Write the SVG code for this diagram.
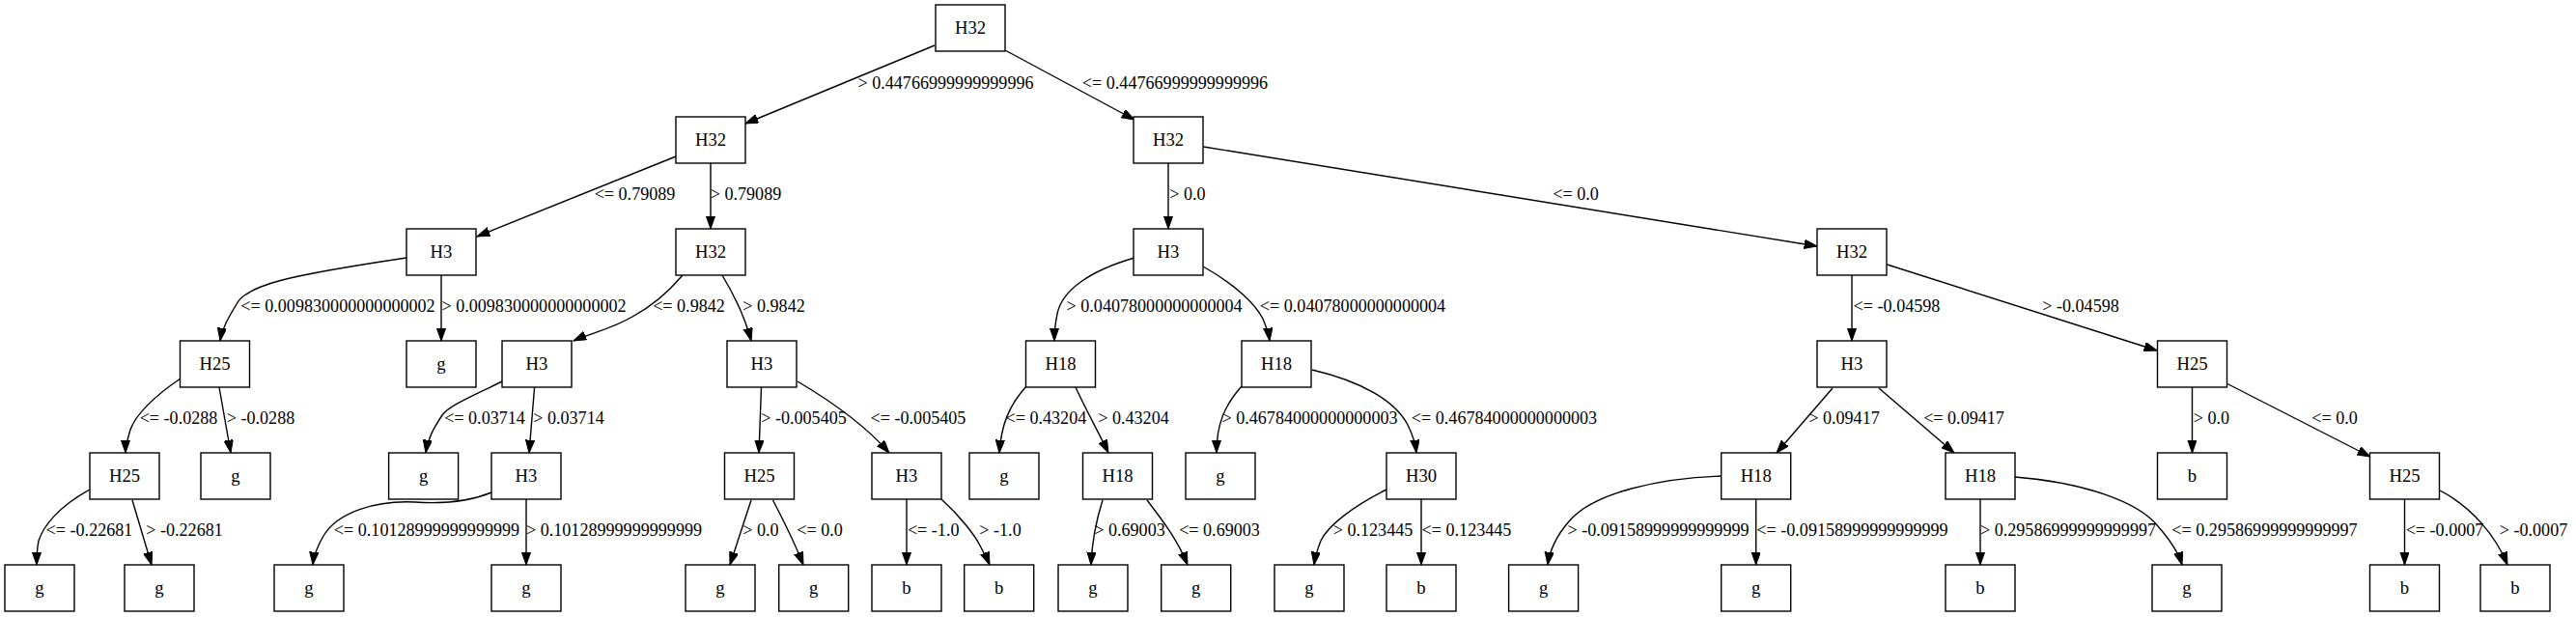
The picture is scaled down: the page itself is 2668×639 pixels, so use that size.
<svg xmlns="http://www.w3.org/2000/svg" width="2668" height="639" viewBox="0 0 2668 639">
<style>
.node rect{fill:#fff;stroke:#000;stroke-width:1.4}
.node text{font-family:"Liberation Serif","Times New Roman",serif;font-size:18.67px;text-anchor:middle;fill:#000}
.edges path{fill:none;stroke:#000;stroke-width:1.4;marker-end:url(#arr)}
.lbl text{font-family:"Liberation Serif","Times New Roman",serif;font-size:18.1px;text-anchor:middle;fill:#000}
</style>
<defs>
<marker id="arr" markerUnits="userSpaceOnUse" markerWidth="14" markerHeight="10" viewBox="0 0 14 10" refX="13.3" refY="4.67" orient="auto">
<path d="M0,0 L13.3,4.67 L0,9.33 Z" fill="#000" stroke="#000" stroke-width="1"/>
</marker>
</defs>
<rect width="2668" height="639" fill="#fff"/>
<g class="edges">
<path d="M968,47 L772,128"/>
<path d="M1041,52 L1175,124"/>
<path d="M700,162 L494,245"/>
<path d="M736,169 L736,237"/>
<path d="M1210,169 L1210,237"/>
<path d="M1246.5,152 L1882,255"/>
<path d="M421,267 C300,285 255,295 245,315 C236,330 230,340 228,353"/>
<path d="M457,285 L457,353"/>
<path d="M707,285 C690,305 670,320 655,328 C635,340 612,345 594,353"/>
<path d="M748,285 C760,305 772,330 778,353"/>
<path d="M1175,267 C1130,280 1100,300 1095,325 C1093,335 1092,345 1092,353"/>
<path d="M1246,276 C1280,295 1300,315 1308,330 C1312,340 1314,345 1315,353"/>
<path d="M1918,285 L1918,353"/>
<path d="M1954.6,274 L2234,363"/>
<path d="M187,392 C160,410 140,430 135,445 C132,455 130,462 130,469"/>
<path d="M227,401 L239,469"/>
<path d="M520,395 C490,410 465,420 458,430 C448,445 443,455 441,469"/>
<path d="M553.6,401 L548,469"/>
<path d="M788.5,401 L786,469"/>
<path d="M826,395 C865,418 900,445 921,469"/>
<path d="M1063,400 C1045,420 1037,440 1035,469"/>
<path d="M1114,401 C1125,425 1138,448 1148,469"/>
<path d="M1286,400 C1268,420 1260,440 1260,469"/>
<path d="M1359,383 C1410,395 1445,415 1458,440 C1463,450 1466,460 1467,469"/>
<path d="M1898,402 L1840,469"/>
<path d="M1946,402 L2024,469"/>
<path d="M2270.5,401 L2270.5,469"/>
<path d="M2306,397 L2455,473"/>
<path d="M93,507 C60,525 45,545 40,560 C38,570 38,578 38,585"/>
<path d="M137,518 L157,585"/>
<path d="M509,510 C485,520 460,522 430,520 C390,518 350,530 335,555 C328,567 325,575 324,585"/>
<path d="M545,517 L545,585"/>
<path d="M778,518 L756,585"/>
<path d="M800.5,518 C812,540 823,562 832,585"/>
<path d="M939,517 L939,585"/>
<path d="M975,517 C995,535 1010,555 1015,565 C1020,575 1023,580 1025,585"/>
<path d="M1142,518 C1135,540 1131,560 1130,585"/>
<path d="M1188,518 C1205,540 1220,560 1230,585"/>
<path d="M1436,507 C1400,525 1375,545 1368,560 C1364,570 1362,578 1361,585"/>
<path d="M1472,517 L1472,585"/>
<path d="M1783,493 C1720,495 1650,510 1625,540 C1612,555 1605,570 1603,585"/>
<path d="M1818.7,517 L1818.7,585"/>
<path d="M2051,517 L2051,585"/>
<path d="M2087,494 C2160,500 2215,520 2235,545 C2250,562 2257,575 2260,585"/>
<path d="M2490.5,517 L2490.5,585"/>
<path d="M2527,508 C2560,525 2585,555 2597,585"/>
</g>
<g class="lbl">
<text x="979.5" y="92">&gt; 0.44766999999999996</text>
<text x="1217" y="92">&lt;= 0.44766999999999996</text>
<text x="657.5" y="207">&lt;= 0.79089</text>
<text x="772.5" y="207">&gt; 0.79089</text>
<text x="1230" y="207">&gt; 0.0</text>
<text x="1632" y="207">&lt;= 0.0</text>
<text x="350" y="323">&lt;= 0.009830000000000002</text>
<text x="553" y="323">&gt; 0.009830000000000002</text>
<text x="713.5" y="323">&lt;= 0.9842</text>
<text x="801.5" y="323">&gt; 0.9842</text>
<text x="1195.6" y="323">&gt; 0.04078000000000004</text>
<text x="1401" y="323">&lt;= 0.04078000000000004</text>
<text x="1964.5" y="323">&lt;= -0.04598</text>
<text x="2155" y="323">&gt; -0.04598</text>
<text x="185" y="439">&lt;= -0.0288</text>
<text x="270" y="439">&gt; -0.0288</text>
<text x="502" y="439">&lt;= 0.03714</text>
<text x="589" y="439">&gt; 0.03714</text>
<text x="832.5" y="439">&gt; -0.005405</text>
<text x="951" y="439">&lt;= -0.005405</text>
<text x="1083.4" y="439">&lt;= 0.43204</text>
<text x="1174" y="439">&gt; 0.43204</text>
<text x="1356.5" y="439">&gt; 0.46784000000000003</text>
<text x="1558" y="439">&lt;= 0.46784000000000003</text>
<text x="1910" y="439">&gt; 0.09417</text>
<text x="2034" y="439">&lt;= 0.09417</text>
<text x="2290.5" y="439">&gt; 0.0</text>
<text x="2418" y="439">&lt;= 0.0</text>
<text x="92.5" y="555">&lt;= -0.22681</text>
<text x="191" y="555">&gt; -0.22681</text>
<text x="442" y="555">&lt;= 0.10128999999999999</text>
<text x="636" y="555">&gt; 0.10128999999999999</text>
<text x="788" y="555">&gt; 0.0</text>
<text x="849" y="555">&lt;= 0.0</text>
<text x="966.7" y="555">&lt;= -1.0</text>
<text x="1036" y="555">&gt; -1.0</text>
<text x="1170" y="555">&gt; 0.69003</text>
<text x="1263" y="555">&lt;= 0.69003</text>
<text x="1422" y="555">&gt; 0.123445</text>
<text x="1519" y="555">&lt;= 0.123445</text>
<text x="1717.5" y="555">&gt; -0.09158999999999999</text>
<text x="1918.5" y="555">&lt;= -0.09158999999999999</text>
<text x="2142" y="555">&gt; 0.29586999999999997</text>
<text x="2345.5" y="555">&lt;= 0.29586999999999997</text>
<text x="2532" y="555">&lt;= -0.0007</text>
<text x="2624" y="555">&gt; -0.0007</text>
</g>
<g id="n0" class="node"><rect x="969" y="5" width="72" height="48"/><text x="1005" y="35">H32</text></g>
<g id="n1" class="node"><rect x="700" y="121" width="72" height="48"/><text x="736" y="151">H32</text></g>
<g id="n2" class="node"><rect x="1174" y="121" width="72" height="48"/><text x="1210" y="151">H32</text></g>
<g id="n3" class="node"><rect x="421" y="237" width="72" height="48"/><text x="457" y="267">H3</text></g>
<g id="n4" class="node"><rect x="700" y="237" width="72" height="48"/><text x="736" y="267">H32</text></g>
<g id="n5" class="node"><rect x="1174" y="237" width="72" height="48"/><text x="1210" y="267">H3</text></g>
<g id="n6" class="node"><rect x="1882" y="237" width="72" height="48"/><text x="1918" y="267">H32</text></g>
<g id="n7" class="node"><rect x="186.5" y="353" width="72" height="48"/><text x="222.5" y="383">H25</text></g>
<g id="n8" class="node"><rect x="421" y="353" width="72" height="48"/><text x="457" y="383">g</text></g>
<g id="n9" class="node"><rect x="520" y="353" width="72" height="48"/><text x="556" y="383">H3</text></g>
<g id="n10" class="node"><rect x="753" y="353" width="72" height="48"/><text x="789" y="383">H3</text></g>
<g id="n11" class="node"><rect x="1062.5" y="353" width="72" height="48"/><text x="1098.5" y="383">H18</text></g>
<g id="n12" class="node"><rect x="1286" y="353" width="72" height="48"/><text x="1322" y="383">H18</text></g>
<g id="n13" class="node"><rect x="1882" y="353" width="72" height="48"/><text x="1918" y="383">H3</text></g>
<g id="n14" class="node"><rect x="2234.5" y="353" width="72" height="48"/><text x="2270.5" y="383">H25</text></g>
<g id="n15" class="node"><rect x="93" y="469" width="72" height="48"/><text x="129" y="499">H25</text></g>
<g id="n16" class="node"><rect x="208" y="469" width="72" height="48"/><text x="244" y="499">g</text></g>
<g id="n17" class="node"><rect x="402.6" y="469" width="72" height="48"/><text x="438.6" y="499">g</text></g>
<g id="n18" class="node"><rect x="509" y="469" width="72" height="48"/><text x="545" y="499">H3</text></g>
<g id="n19" class="node"><rect x="750.5" y="469" width="72" height="48"/><text x="786.5" y="499">H25</text></g>
<g id="n20" class="node"><rect x="903" y="469" width="72" height="48"/><text x="939" y="499">H3</text></g>
<g id="n21" class="node"><rect x="1004" y="469" width="72" height="48"/><text x="1040" y="499">g</text></g>
<g id="n22" class="node"><rect x="1121.5" y="469" width="72" height="48"/><text x="1157.5" y="499">H18</text></g>
<g id="n23" class="node"><rect x="1228" y="469" width="72" height="48"/><text x="1264" y="499">g</text></g>
<g id="n24" class="node"><rect x="1436" y="469" width="72" height="48"/><text x="1472" y="499">H30</text></g>
<g id="n25" class="node"><rect x="1782.7" y="469" width="72" height="48"/><text x="1818.7" y="499">H18</text></g>
<g id="n26" class="node"><rect x="2015" y="469" width="72" height="48"/><text x="2051" y="499">H18</text></g>
<g id="n27" class="node"><rect x="2234.5" y="469" width="72" height="48"/><text x="2270.5" y="499">b</text></g>
<g id="n28" class="node"><rect x="2454.5" y="469" width="72" height="48"/><text x="2490.5" y="499">H25</text></g>
<g id="n29" class="node"><rect x="5" y="585" width="72" height="48"/><text x="41" y="615">g</text></g>
<g id="n30" class="node"><rect x="129" y="585" width="72" height="48"/><text x="165" y="615">g</text></g>
<g id="n31" class="node"><rect x="284" y="585" width="72" height="48"/><text x="320" y="615">g</text></g>
<g id="n32" class="node"><rect x="509" y="585" width="72" height="48"/><text x="545" y="615">g</text></g>
<g id="n33" class="node"><rect x="710" y="585" width="72" height="48"/><text x="746" y="615">g</text></g>
<g id="n34" class="node"><rect x="806.7" y="585" width="72" height="48"/><text x="842.7" y="615">g</text></g>
<g id="n35" class="node"><rect x="903" y="585" width="72" height="48"/><text x="939" y="615">b</text></g>
<g id="n36" class="node"><rect x="998.7" y="585" width="72" height="48"/><text x="1034.7" y="615">b</text></g>
<g id="n37" class="node"><rect x="1096" y="585" width="72" height="48"/><text x="1132" y="615">g</text></g>
<g id="n38" class="node"><rect x="1202.7" y="585" width="72" height="48"/><text x="1238.7" y="615">g</text></g>
<g id="n39" class="node"><rect x="1320" y="585" width="72" height="48"/><text x="1356" y="615">g</text></g>
<g id="n40" class="node"><rect x="1436" y="585" width="72" height="48"/><text x="1472" y="615">b</text></g>
<g id="n41" class="node"><rect x="1562.6" y="585" width="72" height="48"/><text x="1598.6" y="615">g</text></g>
<g id="n42" class="node"><rect x="1782.7" y="585" width="72" height="48"/><text x="1818.7" y="615">g</text></g>
<g id="n43" class="node"><rect x="2015" y="585" width="72" height="48"/><text x="2051" y="615">b</text></g>
<g id="n44" class="node"><rect x="2229" y="585" width="72" height="48"/><text x="2265" y="615">g</text></g>
<g id="n45" class="node"><rect x="2454.5" y="585" width="72" height="48"/><text x="2490.5" y="615">b</text></g>
<g id="n46" class="node"><rect x="2569" y="585" width="72" height="48"/><text x="2605" y="615">b</text></g>
</svg>
